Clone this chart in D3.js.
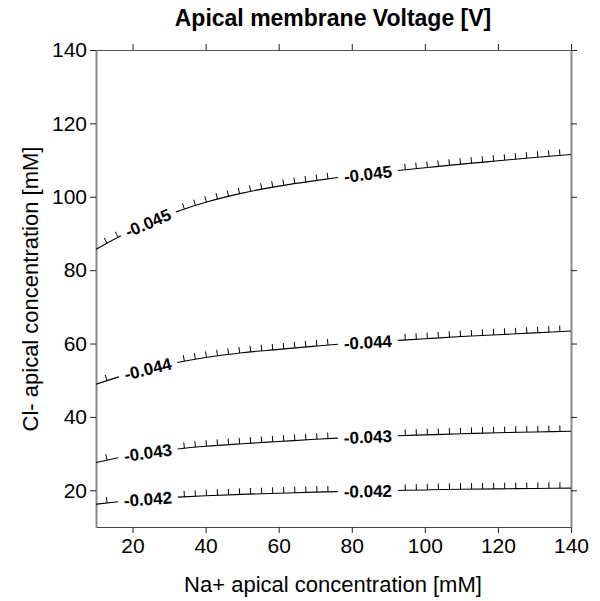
<!DOCTYPE html>
<html>
<head>
<meta charset="utf-8">
<script src="https://cdn.jsdelivr.net/npm/d3@7"></script>
<style>
  body { margin: 0; background: #fff; }
  text { font-family: "Liberation Sans", Arial, sans-serif; fill: #000; }
</style>
</head>
<body>
<svg id="chart" width="600" height="601"></svg>
<script>
// Na+ apical concentration grid [mM]
const naValues = [10, 20, 30, 40, 50, 60, 70, 80, 90, 100, 110, 120, 130, 140]
// Cl- concentration at which each voltage level is reached [mM]
const clLevel045 = [85.7, 91.0, 95.2, 98.5, 101.0, 102.9, 104.4, 105.7, 106.9, 107.9, 108.9, 109.8, 110.7, 111.5]
const clLevel044 = [48.9, 52.0, 54.4, 56.2, 57.5, 58.4, 59.3, 60.1, 60.7, 61.3, 61.9, 62.4, 62.9, 63.4]
const clLevel043 = [27.6, 29.6, 31.0, 32.0, 32.7, 33.3, 33.9, 34.4, 34.8, 35.1, 35.4, 35.7, 35.9, 36.1]
const clLevel042 = [16.2, 17.3, 18.0, 18.5, 18.9, 19.2, 19.5, 19.7, 19.9, 20.1, 20.3, 20.4, 20.5, 20.6]
const levelNames = ['-0.045', '-0.044', '-0.043', '-0.042']
const levelSeries = [clLevel045, clLevel044, clLevel043, clLevel042]
const labelAt = [24.2, 84.4]      // Na+ positions of the in-line labels
const tickValues = [20, 40, 60, 80, 100, 120, 140]

const svg = d3.select('#chart')
const x = d3.scaleLinear().domain([10, 140]).range([96, 571])
const y = d3.scaleLinear().domain([10, 140]).range([527, 50])

// axes
let gBottom = svg.append('g').attr('transform', 'translate(0,527)')
    .call(d3.axisBottom(x).tickValues(tickValues).tickSize(6).tickSizeOuter(0).tickPadding(5))
let gLeft = svg.append('g').attr('transform', 'translate(96,0)')
    .call(d3.axisLeft(y).tickValues(tickValues).tickSize(6).tickSizeOuter(0).tickPadding(3))
let gTop = svg.append('g').attr('transform', 'translate(0,50)')
    .call(d3.axisTop(x).tickValues(tickValues).tickSize(6).tickSizeOuter(0).tickFormat(''))
let gRight = svg.append('g').attr('transform', 'translate(571,0)')
    .call(d3.axisRight(y).tickValues(tickValues).tickSize(6).tickSizeOuter(0).tickFormat(''))

for (let g of [gBottom, gLeft, gTop, gRight]) {
    g.selectAll('text').attr('font-size', 21).attr('font-family', '"Liberation Sans", Arial, sans-serif').attr('fill', '#111')
    g.selectAll('.tick line').attr('stroke', '#222')
}
gBottom.select('.domain').attr('stroke', '#444').attr('stroke-width', 1.2)
gTop.select('.domain').attr('stroke', '#555').attr('stroke-width', 1.2)
gLeft.select('.domain').attr('stroke', '#888').attr('stroke-width', 2)
gRight.select('.domain').attr('stroke', '#888').attr('stroke-width', 2)

// titles
svg.append('text').attr('x', 333).attr('y', 26).attr('text-anchor', 'middle')
    .attr('font-size', 23).attr('font-weight', 'bold').text('Apical membrane Voltage [V]')
svg.append('text').attr('x', 333).attr('y', 592).attr('text-anchor', 'middle')
    .attr('font-size', 22).text('Na+ apical concentration [mM]')
svg.append('text').attr('transform', 'translate(38,289) rotate(-90)').attr('text-anchor', 'middle')
    .attr('font-size', 22).text('Cl- apical concentration [mM]')

// contour lines
const line = d3.line().x(d => x(d[0])).y(d => y(d[1])).curve(d3.curveMonotoneX)
const gridStep = 130 / 43
const halfGap = 30

function lengthAtX (path, px, total) {
    let lo = 0, hi = total
    for (let i = 0; i < 40; i++) {
        let mid = (lo + hi) / 2
        if (path.getPointAtLength(mid).x < px) lo = mid
        else hi = mid
    }
    return (lo + hi) / 2
}

levelSeries.forEach(function (series, i) {
    let pts = naValues.map((v, j) => [v, series[j]])
    let path = svg.append('path').attr('d', line(pts))
        .attr('fill', 'none').attr('stroke', '#000').attr('stroke-width', 1.1)
    let node = path.node()
    let total = node.getTotalLength()
    let gaps = labelAt.map(v => lengthAtX(node, x(v), total))
    path.attr('stroke-dasharray', [gaps[0] - halfGap, 2 * halfGap,
        (gaps[1] - halfGap) - (gaps[0] + halfGap), 2 * halfGap, total].join(','))

    // hachure ticks on the upper side
    for (let k = 1; k < 43; k++) {
        let l = lengthAtX(node, x(10 + k * gridStep), total)
        if (gaps.some(g => Math.abs(l - g) < halfGap + 2)) continue
        let p = node.getPointAtLength(l)
        let a = node.getPointAtLength(Math.max(0, l - 1))
        let b = node.getPointAtLength(Math.min(total, l + 1))
        let dx = b.x - a.x, dy = b.y - a.y
        let n = Math.hypot(dx, dy)
        let nx = dy / n, ny = -dx / n
        svg.append('line').attr('x1', p.x).attr('y1', p.y)
            .attr('x2', p.x + nx * 6).attr('y2', p.y + ny * 6)
            .attr('stroke', '#000').attr('stroke-width', 1)
    }

    // in-line labels
    gaps.forEach(function (l) {
        let p = node.getPointAtLength(l)
        let a = node.getPointAtLength(l - 5)
        let b = node.getPointAtLength(l + 5)
        let angle = Math.atan2(b.y - a.y, b.x - a.x) * 180 / Math.PI
        svg.append('text')
            .attr('transform', 'translate(' + p.x + ',' + p.y + ') rotate(' + angle + ')')
            .attr('text-anchor', 'middle').attr('dy', '0.36em')
            .attr('font-size', 17).attr('font-weight', 'bold')
            .text(levelNames[i])
    })
})
</script>
</body>
</html>
